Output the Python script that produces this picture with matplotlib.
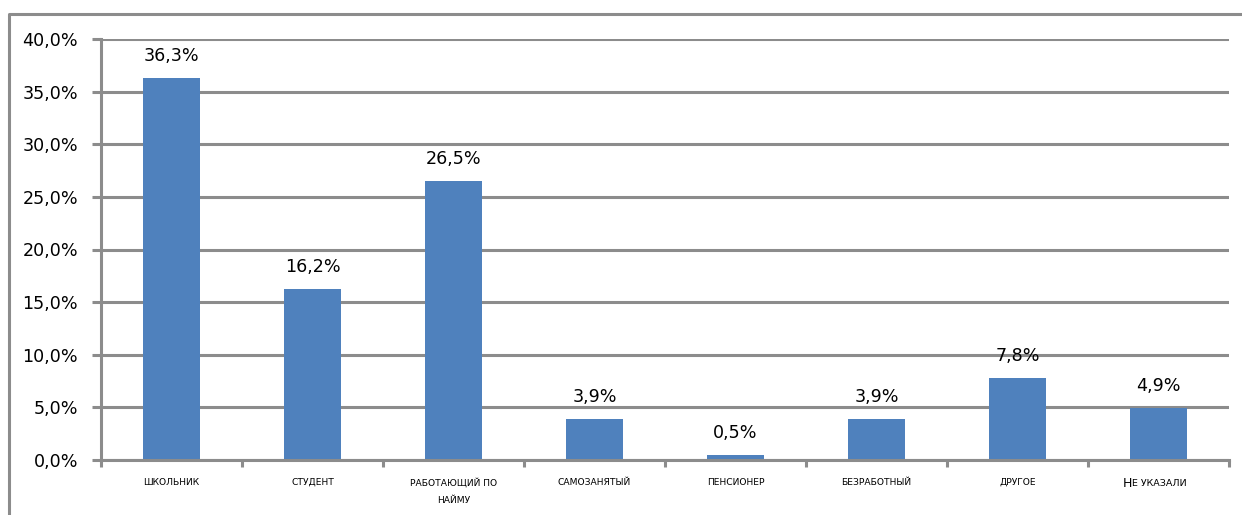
import matplotlib
matplotlib.use("Agg")
import matplotlib.pyplot as plt
from matplotlib.lines import Line2D

categories = ["ШКОЛЬНИК", "СТУДЕНТ", "РАБОТАЮЩИЙ ПО\nНАЙМУ", "САМОЗАНЯТЫЙ",
              "ПЕНСИОНЕР", "БЕЗРАБОТНЫЙ", "ДРУГОЕ", "НЕ УКАЗАЛИ"]
values = [36.3, 16.2, 26.5, 3.9, 0.5, 3.9, 7.8, 4.9]
yticks = [0, 5, 10, 15, 20, 25, 30, 35, 40]

BAR = "#4f81bd"
GRID = "#8c8c8c"
plt.rcParams["font.family"] = ["DejaVu Sans"]

W, H = 1242, 515
fig = plt.figure(figsize=(W / 100, H / 100), dpi=100)
ax = fig.add_axes([101 / W, (H - 460) / H, (1229 - 101) / W, (460 - 39) / H])

x = list(range(len(values)))
ax.bar(x, values, width=0.404, color=BAR, zorder=3)
ax.set_xlim(-0.5, len(values) - 0.5)
ax.set_ylim(0, 40)

ax.set_yticks(yticks)
ax.set_yticklabels([f"{v:.1f}%".replace(".", ",") for v in yticks], fontsize=12.6)
ax.yaxis.grid(True, color=GRID, lw=2.2, zorder=0)
ax.tick_params(axis="y", length=6.5, width=2.2, color=GRID, pad=10)

ax.set_xticks([i - 0.5 for i in range(len(values) + 1)])
ax.set_xticklabels([])
ax.tick_params(axis="x", length=5, width=2.2, color=GRID)

for s in ["top", "right"]:
    ax.spines[s].set_visible(False)
for s in ["left", "bottom"]:
    ax.spines[s].set_color(GRID)
    ax.spines[s].set_linewidth(2.2)
    ax.spines[s].set_zorder(4)

# value labels
for i, v in enumerate(values):
    ax.annotate(f"{v:.1f}%".replace(".", ","), xy=(i, v), xytext=(0, 16),
                textcoords="offset points", ha="center", va="center", fontsize=12.6)

# category labels (small caps look)
for i, lab in enumerate(categories):
    if lab == "НЕ УКАЗАЛИ":
        t1 = ax.annotate("Н", xy=(i, 0), xycoords=("data", "axes fraction"),
                         xytext=(-22.5, -12), textcoords="offset points",
                         ha="center", va="top", fontsize=9)
        ax.annotate("Е УКАЗАЛИ", xy=(1, 0.12), xycoords=t1, ha="left", va="bottom", fontsize=6.8)
    else:
        ax.annotate(lab, xy=(i, 0), xycoords=("data", "axes fraction"),
                    xytext=(0, -13), textcoords="offset points", ha="center", va="top",
                    fontsize=6.6, linespacing=2.2)

# outer chart frame (left and top)
fig.add_artist(Line2D([9 / W, 9 / W, 1], [0, 1 - 14 / H, 1 - 14 / H],
                      transform=fig.transFigure, color=GRID, lw=2.2))

fig.savefig("out.png", dpi=100)
